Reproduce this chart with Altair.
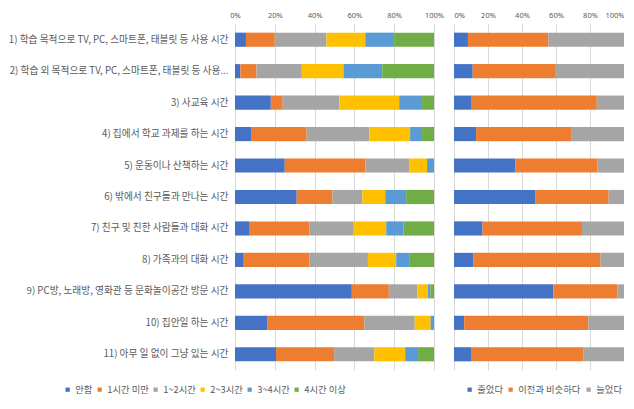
import altair as alt
import pandas as pd

categories = [
    "1) 학습 목적으로 TV, PC, 스마트폰, 태블릿 등 사용 시간",
    "2) 학습 외 목적으로 TV, PC, 스마트폰, 태블릿 등 사용...",
    "3) 사교육 시간",
    "4) 집에서 학교 과제를 하는 시간",
    "5) 운동이나 산책하는 시간",
    "6) 밖에서 친구들과 만나는 시간",
    "7) 친구 및 친한 사람들과 대화 시간",
    "8) 가족과의 대화 시간",
    "9) PC방, 노래방, 영화관 등 문화놀이공간 방문 시간",
    "10) 집안일 하는 시간",
    "11) 아무 일 없이 그냥 있는 시간",
]

time_levels = ["안함", "1시간 미만", "1~2시간", "2~3시간", "3~4시간", "4시간 이상"]
time_colors = ["#4472C4", "#ED7D31", "#A5A5A5", "#FFC000", "#5B9BD5", "#70AD47"]
time_values = [
    [5.5, 14.5, 26.0, 19.5, 14.5, 20.0],
    [2.7, 8.1, 22.8, 20.9, 19.5, 26.0],
    [18.0, 6.0, 28.5, 30.0, 11.5, 6.0],
    [8.4, 27.6, 31.5, 20.5, 6.0, 6.0],
    [25.0, 40.5, 22.0, 9.0, 3.5, 0.0],
    [31.0, 18.0, 15.0, 11.5, 10.5, 14.0],
    [7.4, 30.1, 22.2, 16.3, 8.7, 15.3],
    [4.4, 33.1, 29.3, 14.2, 6.5, 12.5],
    [58.7, 18.6, 14.4, 5.3, 1.2, 1.8],
    [16.4, 48.6, 25.3, 8.0, 1.7, 0.0],
    [20.6, 29.2, 20.2, 15.5, 6.5, 8.0],
]

change_levels = ["줄었다", "이전과 비슷하다", "늘었다"]
change_colors = ["#4472C4", "#ED7D31", "#A5A5A5"]
change_values = [
    [8.2, 47.3, 44.5],
    [11.0, 48.4, 40.6],
    [10.0, 74.0, 16.0],
    [13.0, 56.3, 30.7],
    [36.0, 48.5, 15.5],
    [48.0, 43.0, 9.0],
    [16.8, 58.5, 24.7],
    [11.5, 74.7, 13.8],
    [58.4, 37.6, 4.0],
    [6.0, 73.0, 21.0],
    [10.0, 66.0, 24.0],
]

tick_values = [0, 0.2, 0.4, 0.6, 0.8, 1.0]
FONT = "Noto Sans CJK KR"
TEXT = "#595959"


def long_table(levels, values):
    rows = []
    for ci, c in enumerate(categories):
        for li, l in enumerate(levels):
            rows.append({"cat": c, "level": l, "ord": li, "value": values[ci][li]})
    return pd.DataFrame(rows)


df_time = long_table(time_levels, time_values)
df_change = long_table(change_levels, change_values)

H = 346
yscale = alt.Scale(paddingInner=0.55, paddingOuter=0.275)


def x_enc(flush):
    return alt.X(
        "value:Q", stack="normalize", title=None,
        scale=alt.Scale(domain=[0, 1], nice=False),
        axis=alt.Axis(orient="top", format="%", values=tick_values, ticks=False,
                      domain=False, grid=True, gridColor="#D9D9D9",
                      labelFontSize=7.5, labelColor=TEXT, labelPadding=5,
                      labelFont="Noto Sans", labelFlush=flush),
    )


def legend(x, pad):
    return alt.Legend(orient="none", legendX=x, legendY=H + 15,
                      direction="horizontal", title=None,
                      symbolType="square", symbolSize=18,
                      symbolStrokeWidth=0, labelOffset=3,
                      labelFontSize=9.3, labelColor=TEXT,
                      labelFont=FONT, columnPadding=pad)


left = alt.Chart(df_time).mark_bar().encode(
    y=alt.Y("cat:N", sort=categories, title=None, scale=yscale,
            axis=alt.Axis(ticks=False, domain=False, labelFontSize=9.7,
                          labelColor=TEXT, labelPadding=7, labelFont=FONT,
                          minExtent=226, maxExtent=226, labelLimit=300)),
    x=x_enc(False),
    color=alt.Color("level:N", sort=time_levels,
                    scale=alt.Scale(domain=time_levels, range=time_colors),
                    legend=legend(-172, 2)),
    order=alt.Order("ord:Q"),
).properties(width=199, height=H)

right = alt.Chart(df_change).mark_bar().encode(
    y=alt.Y("cat:N", sort=categories, title=None, scale=yscale, axis=None),
    x=x_enc(True),
    color=alt.Color("level:N", sort=change_levels,
                    scale=alt.Scale(domain=change_levels, range=change_colors),
                    legend=legend(11, 3)),
    order=alt.Order("ord:Q"),
).properties(width=170, height=H)

chart = alt.hconcat(left, right, spacing=20, bounds="flush").resolve_scale(
    color="independent", y="shared"
).resolve_legend(color="independent").configure_view(stroke=None).properties(
    padding={"top": 3, "left": 0, "right": 0, "bottom": 0}
)

chart.save("out.html", embed_options={"renderer": "svg", "actions": False})
